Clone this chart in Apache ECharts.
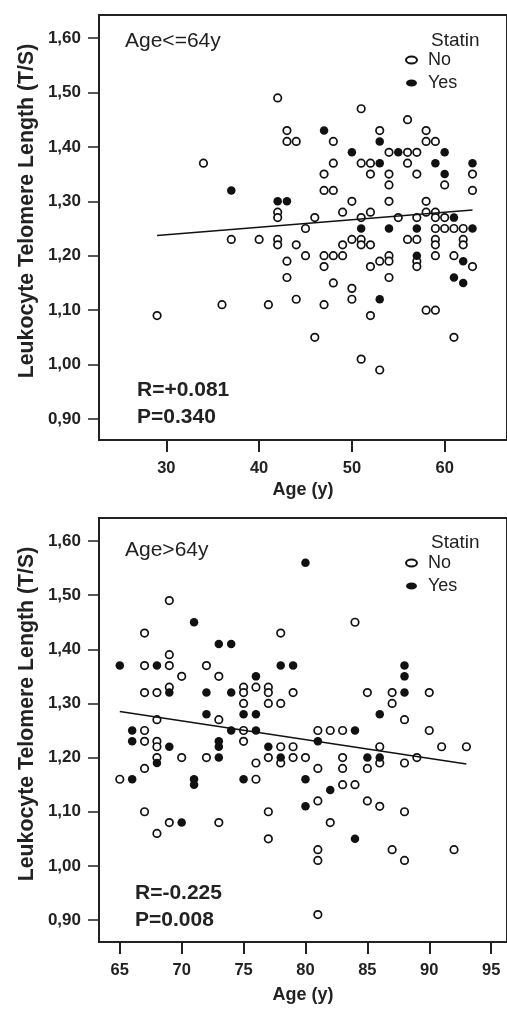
<!DOCTYPE html>
<html>
<head>
<meta charset="utf-8">
<script src="https://cdn.jsdelivr.net/npm/echarts@6/dist/echarts.min.js"></script>
<style>
html, body { margin: 0; padding: 0; background: #fff; }
#chart { width: 507px; height: 1009px; }
</style>
</head>
<body>
<div id="chart"></div>
<script>
// 数据：[年龄, 端粒长度]
var youngNo = [
	[42, 1.49], [51, 1.47], [56, 1.45], [43, 1.43], [53, 1.43], [58, 1.43],
	[43, 1.41], [44, 1.41], [48, 1.41], [58, 1.41], [59, 1.41],
	[54, 1.39], [56, 1.39], [57, 1.39],
	[34, 1.37], [48, 1.37], [51, 1.37], [52, 1.37], [56, 1.37],
	[47, 1.35], [52, 1.35], [54, 1.35], [57, 1.35], [63, 1.35],
	[54, 1.33], [60, 1.33], [47, 1.32], [48, 1.32], [63, 1.32],
	[50, 1.30], [54, 1.30], [58, 1.30],
	[42, 1.28], [49, 1.28], [52, 1.28], [58, 1.28], [59, 1.28],
	[42, 1.27], [46, 1.27], [51, 1.27], [55, 1.27], [57, 1.27], [59, 1.27], [60, 1.27],
	[45, 1.25], [59, 1.25], [60, 1.25], [61, 1.25], [62, 1.25],
	[37, 1.23], [40, 1.23], [42, 1.23], [50, 1.23], [51, 1.23], [56, 1.23], [57, 1.23], [59, 1.23], [62, 1.23],
	[42, 1.22], [44, 1.22], [49, 1.22], [51, 1.22], [52, 1.22], [59, 1.22], [62, 1.22],
	[45, 1.20], [47, 1.20], [48, 1.20], [49, 1.20], [54, 1.20], [59, 1.20], [61, 1.20],
	[43, 1.19], [53, 1.19], [54, 1.19], [57, 1.19],
	[47, 1.18], [52, 1.18], [57, 1.18], [63, 1.18],
	[43, 1.16], [54, 1.16], [48, 1.15], [50, 1.14],
	[44, 1.12], [50, 1.12], [36, 1.11], [41, 1.11], [47, 1.11],
	[58, 1.10], [59, 1.10], [29, 1.09], [52, 1.09],
	[46, 1.05], [61, 1.05], [51, 1.01], [53, 0.99]
];
var youngYes = [
	[47, 1.43], [53, 1.41], [50, 1.39], [55, 1.39], [60, 1.39],
	[53, 1.37], [59, 1.37], [63, 1.37], [60, 1.35],
	[37, 1.32], [42, 1.30], [43, 1.30], [61, 1.27],
	[51, 1.25], [54, 1.25], [57, 1.25], [63, 1.25],
	[57, 1.20], [62, 1.19], [61, 1.16], [62, 1.15], [53, 1.12]
];
var oldNo = [
	[69, 1.49], [84, 1.45], [67, 1.43], [78, 1.43], [69, 1.39],
	[67, 1.37], [69, 1.37], [72, 1.37], [70, 1.35], [73, 1.35],
	[69, 1.33], [75, 1.33], [76, 1.33], [77, 1.33],
	[67, 1.32], [68, 1.32], [75, 1.32], [77, 1.32], [79, 1.32], [85, 1.32], [87, 1.32], [90, 1.32],
	[75, 1.30], [77, 1.30], [78, 1.30], [87, 1.30],
	[68, 1.27], [73, 1.27], [88, 1.27],
	[67, 1.25], [75, 1.25], [81, 1.25], [82, 1.25], [83, 1.25], [90, 1.25],
	[67, 1.23], [68, 1.23], [75, 1.23],
	[68, 1.22], [78, 1.22], [79, 1.22], [86, 1.22], [91, 1.22], [93, 1.22],
	[68, 1.20], [70, 1.20], [72, 1.20], [77, 1.20], [79, 1.20], [80, 1.20], [83, 1.20], [89, 1.20],
	[76, 1.19], [78, 1.19], [86, 1.19], [88, 1.19],
	[67, 1.18], [81, 1.18], [83, 1.18], [85, 1.18],
	[65, 1.16], [76, 1.16], [83, 1.15], [84, 1.15],
	[81, 1.12], [85, 1.12], [86, 1.11],
	[67, 1.10], [77, 1.10], [88, 1.10],
	[69, 1.08], [73, 1.08], [82, 1.08], [68, 1.06], [77, 1.05],
	[81, 1.03], [87, 1.03], [92, 1.03], [81, 1.01], [88, 1.01], [81, 0.91]
];
var oldYes = [
	[80, 1.56], [71, 1.45], [73, 1.41], [74, 1.41],
	[65, 1.37], [68, 1.37], [78, 1.37], [79, 1.37], [88, 1.37],
	[76, 1.35], [88, 1.35],
	[69, 1.32], [72, 1.32], [74, 1.32], [88, 1.32],
	[72, 1.28], [75, 1.28], [76, 1.28], [86, 1.28],
	[66, 1.25], [74, 1.25], [76, 1.25], [84, 1.25],
	[66, 1.23], [73, 1.23], [81, 1.23],
	[69, 1.22], [73, 1.22], [77, 1.22],
	[73, 1.20], [78, 1.20], [85, 1.20], [86, 1.20], [68, 1.19],
	[66, 1.16], [71, 1.16], [75, 1.16], [80, 1.16], [71, 1.15],
	[82, 1.14], [80, 1.11], [70, 1.08], [84, 1.05]
];
// 回归线两端
var youngFit = [[29, 1.237], [63, 1.284]];
var oldFit = [[65, 1.285], [93, 1.188]];
var youngTicks = [30, 40, 50, 60];
var oldTicks = [65, 70, 75, 80, 85, 90, 95];
var yTicks = [0.9, 1.0, 1.1, 1.2, 1.3, 1.4, 1.5, 1.6];

var FONT = 'Liberation Sans, Arial, sans-serif';
var ELLIPSE = 'path://M0,5a5,5 0 1,0 10,0a5,5 0 1,0 -10,0';

function xAxisOf(idx, min, max, ticks, gap) {
	return {
		gridIndex: idx,
		type: 'value',
		min: min,
		max: max,
		name: 'Age (y)',
		nameLocation: 'middle',
		nameGap: gap,
		nameTextStyle: { fontFamily: FONT, fontSize: 18, fontWeight: 'bold', color: '#222' },
		splitLine: { show: false },
		axisLine: { show: true, onZero: false, lineStyle: { color: '#222', width: 2 } },
		axisTick: { show: true, customValues: ticks, length: 12, lineStyle: { color: '#222', width: 2 } },
		axisLabel: { customValues: ticks, margin: 20, fontFamily: FONT, fontSize: 16.5, fontWeight: 'bold', color: '#222' }
	};
}

function yAxisOf(idx, min, max) {
	return {
		gridIndex: idx,
		type: 'value',
		min: min,
		max: max,
		splitLine: { show: false },
		axisLine: { show: true, onZero: false, lineStyle: { color: '#222', width: 2 } },
		axisTick: { show: true, customValues: yTicks, length: 11, lineStyle: { color: '#222', width: 1.5 } },
		axisLabel: {
			customValues: yTicks, margin: 18, fontFamily: FONT, fontSize: 17, fontWeight: 'bold', color: '#222',
			formatter: function(v) { return v.toFixed(2).replace('.', ','); }
		}
	};
}

function dots(name, idx, data, filled) {
	return {
		name: name,
		type: 'scatter',
		xAxisIndex: idx,
		yAxisIndex: idx,
		data: data,
		symbol: 'circle',
		symbolSize: filled ? 8.5 : 7.5,
		itemStyle: {
			color: filled ? '#111' : '#fff',
			borderColor: '#111',
			borderWidth: filled ? 0 : 1.7,
			opacity: 1
		},
		z: filled ? 3 : 2
	};
}

function fitLine(idx, data) {
	return {
		type: 'line',
		xAxisIndex: idx,
		yAxisIndex: idx,
		data: data,
		symbol: 'none',
		lineStyle: { color: '#111', width: 1.5 },
		z: 4,
		silent: true
	};
}

function label(text, x, y, size, bold) {
	return {
		type: 'text',
		left: x,
		top: y,
		style: { text: text, fontFamily: FONT, fontSize: size, fontWeight: bold ? 'bold' : 'normal', fill: '#222' }
	};
}

// 竖排的纵轴标题
function yTitle(cy) {
	return {
		type: 'text',
		x: 27,
		y: cy,
		rotation: Math.PI / 2,
		style: {
			text: 'Leukocyte Telomere Length (T/S)',
			fontFamily: FONT, fontSize: 21.3, fontWeight: 'bold', fill: '#222',
			align: 'center', verticalAlign: 'middle'
		}
	};
}

function legendOf(top) {
	return {
		top: top,
		left: 400,
		orient: 'vertical',
		itemGap: 5,
		itemWidth: 11,
		itemHeight: 7,
		icon: ELLIPSE,
		symbolKeepAspect: false,
		textStyle: { fontFamily: FONT, fontSize: 18, color: '#222', padding: [0, 0, 0, 6] },
		data: [
			{ name: 'No', itemStyle: { color: '#fff', borderColor: '#111', borderWidth: 2 } },
			{ name: 'Yes', itemStyle: { color: '#111' } }
		]
	};
}

var myChart = echarts.init(document.getElementById('chart'), null, { renderer: 'canvas' });
var option = {
	backgroundColor: '#fff',
	animation: false,
	grid: [
		{ left: 99, top: 15, width: 412, height: 425, show: true, borderColor: '#222', borderWidth: 2 },
		{ left: 99, top: 518, width: 412, height: 424, show: true, borderColor: '#222', borderWidth: 2 }
	],
	xAxis: [
		xAxisOf(0, 22.74, 66.72, youngTicks, 41),
		xAxisOf(1, 63.32, 96.28, oldTicks, 44)
	],
	yAxis: [
		yAxisOf(0, 0.8614, 1.6423),
		yAxisOf(1, 0.8594, 1.6425)
	],
	legend: [legendOf(46), legendOf(549)],
	graphic: [
		yTitle(211),
		yTitle(714),
		label('Age<=64y', 125, 31, 21, false),
		label('R=+0.081', 137, 380, 21, true),
		label('P=0.340', 137, 407, 21, true),
		label('Statin', 431, 31, 19, false),
		label('Age>64y', 125, 540, 21, false),
		label('R=-0.225', 135, 883, 21, true),
		label('P=0.008', 135, 910, 21, true),
		label('Statin', 431, 533, 19, false)
	],
	series: [
		dots('No', 0, youngNo, false),
		dots('Yes', 0, youngYes, true),
		fitLine(0, youngFit),
		dots('No', 1, oldNo, false),
		dots('Yes', 1, oldYes, true),
		fitLine(1, oldFit)
	]
};
myChart.setOption(option);
</script>
</body>
</html>
